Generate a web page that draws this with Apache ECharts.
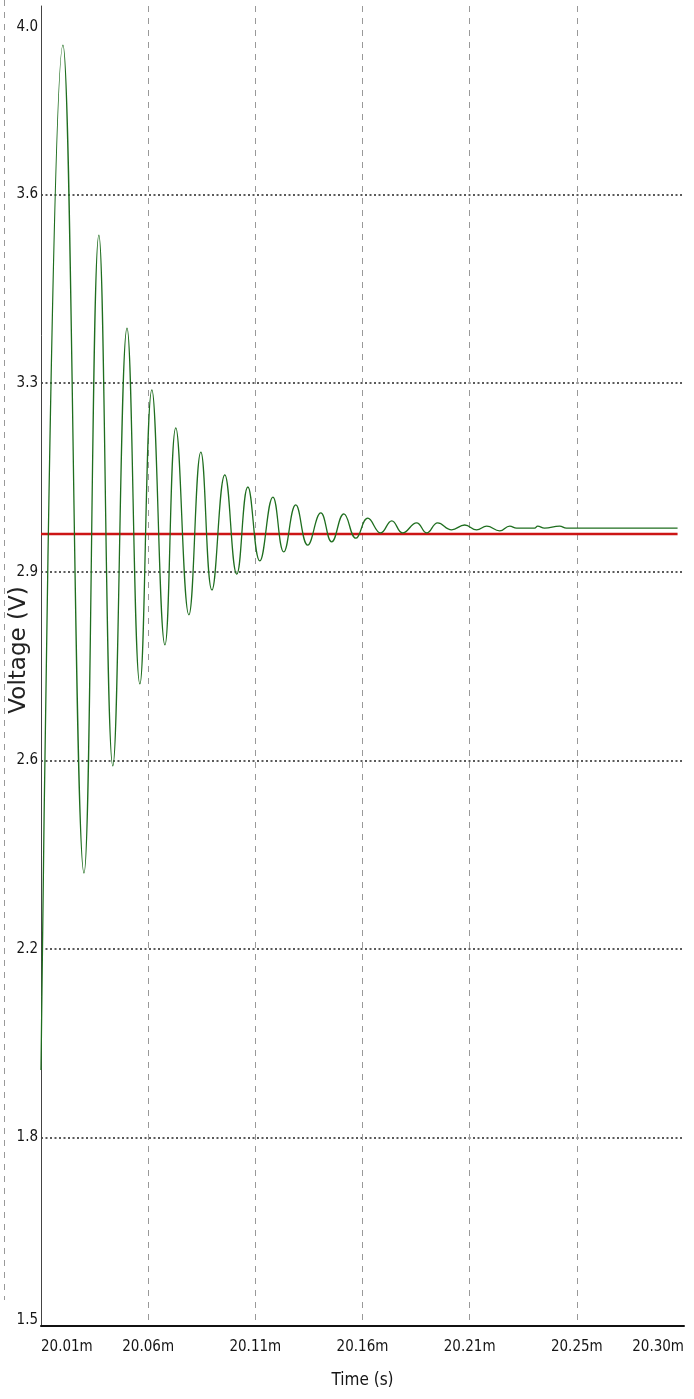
<!DOCTYPE html>
<html>
<head>
<meta charset="utf-8">
<script src="https://cdn.jsdelivr.net/npm/echarts@6/dist/echarts.min.js"></script>
<style>
  html, body { margin: 0; padding: 0; background: #fff; }
  #chart { width: 694px; height: 1399px; }
</style>
</head>
<body>
<div id="chart"></div>
<script>
// time in ms, voltage in V
const timeMs = [20.0100, 20.0199, 20.0294, 20.0361, 20.0424, 20.0488, 20.0546, 20.0600, 20.0659, 20.0708,
  20.0767, 20.0821, 20.0871, 20.0929, 20.0983, 20.1033, 20.1087, 20.1146, 20.1195, 20.1249,
  20.1303, 20.1362, 20.1411, 20.1466, 20.1520, 20.1574, 20.1632, 20.1682, 20.1731, 20.1794,
  20.1840, 20.1889, 20.1952, 20.2011, 20.2065, 20.2110, 20.2169, 20.2214, 20.2245, 20.2326,
  20.2340, 20.2371, 20.2439, 20.2470, 20.2971];
const outVolts = [1.985, 3.926, 2.358, 3.566, 2.561, 3.390, 2.716, 3.273, 2.790, 3.201,
  2.847, 3.155, 2.894, 3.112, 2.924, 3.089, 2.949, 3.070, 2.966, 3.055,
  2.979, 3.040, 2.985, 3.038, 2.992, 3.030, 3.002, 3.025, 3.002, 3.021,
  3.002, 3.021, 3.008, 3.017, 3.008, 3.015, 3.006, 3.015, 3.011, 3.011,
  3.015, 3.011, 3.015, 3.011, 3.011];
const refTime = [20.0100, 20.2971];
const refVolts = [3.0, 3.0];

const xTickLabels = ['20.01m', '20.06m', '20.11m', '20.16m', '20.21m', '20.25m', '20.30m'];
const yTickLabels = ['1.5', '1.8', '2.2', '2.6', '2.9', '3.3', '3.6', '4.0'];

const chart = echarts.init(document.getElementById('chart'));

const narrow = '"Liberation Sans Narrow", "DejaVu Sans Condensed", "Liberation Sans", Arial, sans-serif';

const option = {
  animation: false,
  backgroundColor: '#fff',
  grid: {
    left: 41,
    right: 10,
    top: 6,
    bottom: 73,
    containLabel: false,
    outerBoundsMode: 'none'
  },
  xAxis: [
    {
      // data axis (hidden), time in ms
      type: 'value',
      min: 20.01,
      max: 20.30,
      show: false
    },
    {
      // division axis for ticks/labels/grid
      type: 'value',
      min: 0,
      max: 6,
      interval: 1,
      position: 'bottom',
      name: 'Time (s)',
      nameLocation: 'middle',
      nameGap: 46,
      nameMoveOverlap: false,
      nameTextStyle: {
        fontFamily: narrow,
        fontSize: 17,
        color: '#151515'
      },
      axisLine: {
        show: true,
        onZero: false,
        lineStyle: { color: '#111', width: 2 }
      },
      axisTick: { show: false },
      axisLabel: {
        margin: 14,
        fontFamily: narrow,
        fontSize: 15,
        color: '#151515',
        alignMinLabel: 'left',
        alignMaxLabel: 'right',
        formatter: (v) => xTickLabels[Math.round(v)]
      },
      splitLine: {
        show: true,
        showMinLine: false,
        showMaxLine: false,
        lineStyle: { color: '#999', width: 1, type: [6, 6] }
      }
    }
  ],
  yAxis: [
    {
      type: 'value',
      min: 1.5,
      max: 4.0,
      show: false
    },
    {
      type: 'value',
      min: 0,
      max: 7,
      interval: 1,
      position: 'left',
      name: 'Voltage (V)',
      nameLocation: 'middle',
      nameGap: 10,
      nameRotate: 90,
      nameMoveOverlap: false,
      nameTextStyle: {
        fontFamily: '"DejaVu Sans", Verdana, sans-serif',
        fontSize: 23,
        color: '#222',
        padding: [0, 0, 0, 32]
      },
      axisLine: {
        show: true,
        onZero: false,
        lineStyle: { color: '#444', width: 1 }
      },
      axisTick: { show: false },
      axisLabel: {
        margin: 3,
        fontFamily: narrow,
        fontSize: 15,
        color: '#151515',
        formatter: (v) => {
          const i = Math.round(v);
          if (i === 7) return '{top|' + yTickLabels[i] + '}';
          if (i === 0) return '{bot|' + yTickLabels[i] + '}';
          return yTickLabels[i];
        },
        rich: {
          top: { fontFamily: narrow, fontSize: 15, color: '#151515', padding: [42, 0, 0, 0] },
          bot: { fontFamily: narrow, fontSize: 15, color: '#151515', padding: [0, 0, 12, 0] }
        }
      },
      splitLine: {
        show: true,
        showMinLine: false,
        showMaxLine: false,
        lineStyle: { color: '#5a5a5a', width: 1.8, type: [2, 2.5] }
      }
    }
  ],
  graphic: [
    {
      type: 'line',
      silent: true,
      shape: { x1: 4.5, y1: 0, x2: 4.5, y2: 1300 },
      style: { stroke: '#999', lineWidth: 1, lineDash: [6, 6] }
    }
  ],
  series: [
    {
      name: 'Reference',
      type: 'line',
      xAxisIndex: 0,
      yAxisIndex: 0,
      data: refTime.map((t, i) => [t, refVolts[i]]),
      showSymbol: false,
      lineStyle: { color: '#cc1515', width: 2.5 },
      z: 2
    },
    {
      name: 'Output',
      type: 'line',
      xAxisIndex: 0,
      yAxisIndex: 0,
      data: timeMs.map((t, i) => [t, outVolts[i]]),
      showSymbol: false,
      smooth: 0.45,
      lineStyle: { color: '#1f6e1f', width: 1.3 },
      z: 3
    }
  ]
};

chart.setOption(option);
</script>
</body>
</html>
